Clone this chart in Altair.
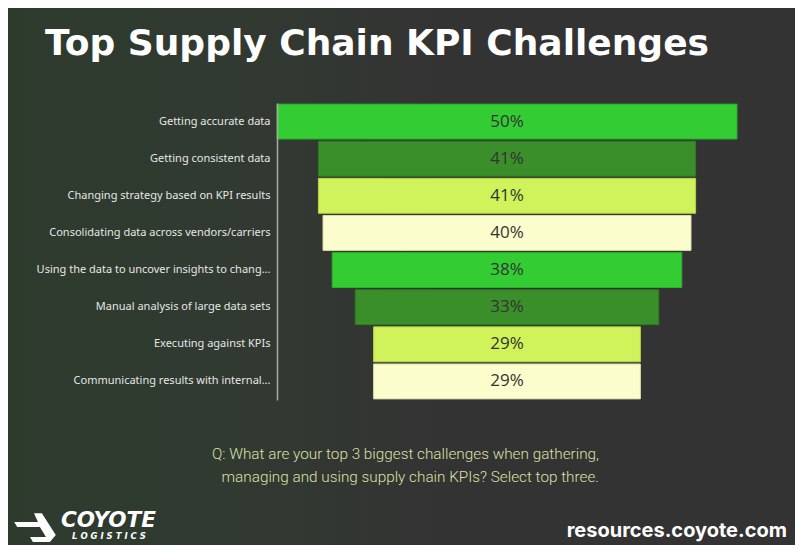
import altair as alt
import pandas as pd

categories = [
    "Getting accurate data",
    "Getting consistent data",
    "Changing strategy based on KPI results",
    "Consolidating data across vendors/carriers",
    "Using the data to uncover insights to chang...",
    "Manual analysis of large data sets",
    "Executing against KPIs",
    "Communicating results with internal...",
]
values = [50, 41, 41, 40, 38, 33, 29, 29]
bar_colors = ["#33CC33", "#3A8F2A", "#D0F25A", "#FBFDCC",
              "#33CC33", "#3A8F2A", "#D0F25A", "#FBFDCC"]
bar_strokes = ["#2AAE2A", "#2F7A22", "#B5D447", "#D9DBA8",
               "#2AAE2A", "#2F7A22", "#B5D447", "#D9DBA8"]

title_text = "Top Supply Chain KPI Challenges"
question_text = "Q: What are your top 3 biggest challenges when gathering,\n  managing and using supply chain KPIs? Select top three."
url_text = "resources.coyote.com"
brand_text = "COYOTE"
brand_sub = "L O G I S T I C S"

df = pd.DataFrame({
    "category": categories,
    "value": values,
    "label": [f"{v}%" for v in values],
})

base = alt.Chart(df).transform_calculate(
    start="(50 - datum.value) / 2",
    end="(50 + datum.value) / 2",
    mid="25",
)

y_enc = alt.Y(
    "category:N",
    sort=categories,
    scale=alt.Scale(paddingInner=0.06, paddingOuter=0.03),
    axis=alt.Axis(
        title=None, ticks=False, labelColor="#E6E6E6", labelFont="Noto Sans",
        labelFontSize=11, labelPadding=7, domainColor="#A8A8A8", domainWidth=1.5,
        labelLimit=300, zindex=1,
    ),
)
x_scale = alt.Scale(domain=[0, 50], nice=False, zero=False)

bars = base.mark_bar(strokeWidth=1).encode(
    x=alt.X("start:Q", scale=x_scale, axis=None),
    x2="end:Q",
    y=y_enc,
    color=alt.Color("category:N", scale=alt.Scale(domain=categories, range=bar_colors), legend=None),
    stroke=alt.Stroke("category:N", scale=alt.Scale(domain=categories, range=bar_strokes), legend=None),
)

labels = base.mark_text(font="Open Sans", fontSize=17, color="#333333", baseline="middle").encode(
    x=alt.X("mid:Q", scale=x_scale),
    y=alt.Y("category:N", sort=categories),
    text="label:N",
)

one = pd.DataFrame({"k": [0]})

def note(text, **kw):
    return alt.Chart(pd.DataFrame({"t": [text]})).mark_text(**kw).encode(text="t:N")

backdrop = alt.Chart(one).mark_rect(
    color=alt.LinearGradient(
        gradient="linear", x1=0, x2=1, y1=0.5, y2=0.5,
        stops=[alt.GradientStop(color="#2D3B2D", offset=0),
               alt.GradientStop(color="#313A31", offset=0.5),
               alt.GradientStop(color="#333333", offset=1)],
    )
).encode(x=alt.value(-269), x2=alt.value(160), y=alt.value(-95), y2=alt.value(442))

logo_path = ("M -0.91 -0.27 L 0.18 -0.27 L 0 -0.68 L 0.36 -0.68 L 1 0.32 L 0.73 0.64 "
             "L -0.05 0.64 L -0.18 0.41 L 0.55 0.41 L 0.27 -0.05 L -0.77 -0.05 Z")
logo = alt.Chart(one).mark_point(shape=logo_path, filled=True, color="#FFFFFF", opacity=1,
                                 size=1900, strokeWidth=0).encode(
    x=alt.value(34 - 277), y=alt.value(528 - 103))

title = note(title_text, align="left", baseline="alphabetic", font="DejaVu Sans", fontWeight="bold",
             fontSize=36, color="#FFFFFF").encode(x=alt.value(-232), y=alt.value(-48))
question = note(question_text, align="right", baseline="alphabetic", font="Roboto", fontWeight=300,
                fontSize=15.3, color="#DCE0A4", lineBreak="\n", lineHeight=23).encode(
    x=alt.value(322), y=alt.value(356))
url = note(url_text, align="right", baseline="alphabetic", font="Inter", fontWeight=700,
           fontSize=20, color="#FFFFFF").encode(x=alt.value(510), y=alt.value(434))
brand = note(brand_text, align="left", baseline="alphabetic", font="DejaVu Sans", fontWeight="bold",
             fontStyle="italic", fontSize=21.5, color="#FFFFFF").encode(x=alt.value(-216), y=alt.value(424))
brand2 = note(brand_sub, align="left", baseline="alphabetic", font="DejaVu Sans", fontWeight="bold",
              fontStyle="italic", fontSize=8.5, color="#FFFFFF").encode(x=alt.value(-205), y=alt.value(436))

chart = alt.layer(backdrop, bars, labels, title, question, url, logo, brand, brand2).properties(
    width=460,
    height=297,
    padding={"left": 269, "top": 95, "right": 58, "bottom": 145},
    autosize=alt.AutoSizeParams(type="none"),
    background="#333333",
).configure_view(stroke=None)

chart.save("out.html", embed_options={"renderer": "svg", "actions": False})
